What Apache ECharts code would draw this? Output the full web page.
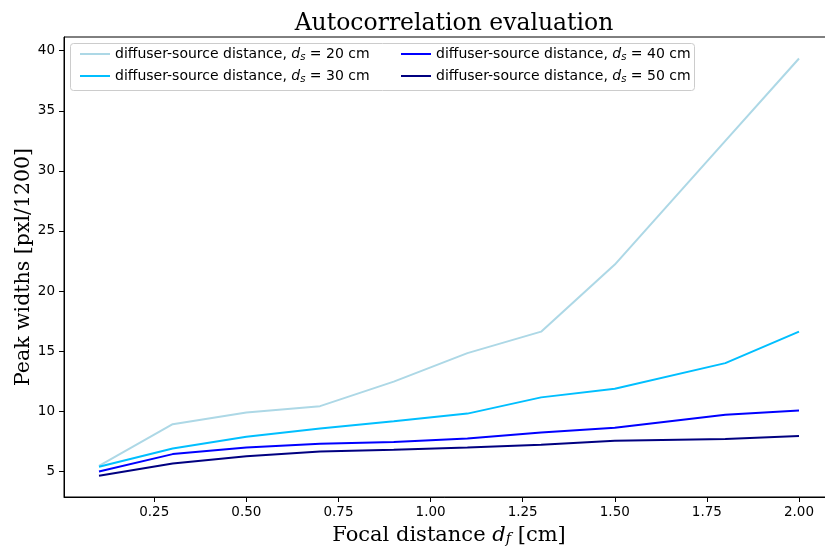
<!DOCTYPE html>
<html>
<head>
<meta charset="utf-8">
<script src="https://cdn.jsdelivr.net/npm/echarts@6/dist/echarts.min.js"></script>
<style>html,body{margin:0;padding:0;background:#fff;}#c{width:825px;height:547px;}</style>
</head>
<body>
<div id="c"></div>
<script>
const xValues = [0.1, 0.3, 0.5, 0.7, 0.9, 1.1, 1.3, 1.5, 1.8, 2.0];
const ds20 = [5.46, 8.92, 9.89, 10.42, 12.46, 14.83, 16.62, 22.2, 32.5, 39.35];
const ds30 = [5.37, 6.9, 7.87, 8.56, 9.17, 9.8, 11.15, 11.87, 14.0, 16.62];
const ds40 = [4.98, 6.43, 6.98, 7.3, 7.43, 7.73, 8.23, 8.62, 9.7, 10.05];
const ds50 = [4.63, 5.65, 6.26, 6.65, 6.79, 6.98, 7.2, 7.54, 7.68, 7.93];
const seriesNames = ['20', '30', '40', '50'];
const seriesColors = ['#ADD8E6', '#00BFFF', '#0000FF', '#000080'];
const xTicks = [0.25, 0.5, 0.75, 1.0, 1.25, 1.5, 1.75, 2.0];
const yTicks = [5, 10, 15, 20, 25, 30, 35, 40];

const allData = [ds20, ds30, ds40, ds50];
const sans = 'DejaVu Sans';
const serif = 'DejaVu Serif';

const chart = echarts.init(document.getElementById('c'), null, {renderer: 'canvas'});

const legendRich = {
  n: {fontFamily: sans, fontSize: 14, color: '#000'},
  i: {fontFamily: sans, fontStyle: 'italic', fontSize: 14, color: '#000'},
  sub: {fontFamily: sans, fontStyle: 'italic', fontSize: 10, color: '#000', verticalAlign: 'bottom', padding: [6, 0, 0, 0]}
};
function legendFmt(name) {
  return '{n|diffuser-source distance, }{i|d}{sub|s}{n| = ' + name + ' cm}';
}
const legendCommon = {
  orient: 'vertical',
  icon: 'rect',
  itemWidth: 30,
  itemHeight: 2,
  itemGap: 7,
  formatter: legendFmt,
  textStyle: {rich: legendRich, padding: [0, 0, 0, 0]},
  selectedMode: false
};

chart.setOption({
  animation: false,
  backgroundColor: '#fff',
  title: {
    text: 'Autocorrelation evaluation',
    left: 449, top: 7, textAlign: 'center',
    textStyle: {fontFamily: serif, fontWeight: 'normal', fontSize: 23.5, color: '#000'}
  },
  graphic: [{
    type: 'rect',
    shape: {x: 70.5, y: 43.5, width: 624, height: 47, r: 3},
    style: {fill: 'rgba(255,255,255,0.8)', stroke: '#cccccc', lineWidth: 1},
    z: 50
  }],
  legend: [
    Object.assign({}, legendCommon, {left: 75, top: 42, data: ['20', '30'], z: 60}),
    Object.assign({}, legendCommon, {left: 396, top: 42, data: ['40', '50'], z: 60})
  ],
  grid: {
    left: 64, top: 37, width: 770, height: 460,
    containLabel: false, outerBoundsMode: 'none',
    show: true, borderColor: '#000', borderWidth: 1, backgroundColor: 'transparent'
  },
  xAxis: {
    type: 'value', min: 0.005, max: 2.095,
    name: '{t|Focal distance }{i|d}{sub|f}{t| [cm]}',
    nameLocation: 'middle', nameGap: 27, nameMoveOverlap: false,
    nameTextStyle: {
      rich: {
        t: {fontFamily: serif, fontSize: 21, color: '#000'},
        i: {fontFamily: serif, fontStyle: 'italic', fontSize: 21, color: '#000'},
        sub: {fontFamily: serif, fontStyle: 'italic', fontSize: 14.5, color: '#000', verticalAlign: 'bottom', padding: [8, 0, 0, 0]}
      }
    },
    axisLine: {show: true, lineStyle: {color: '#000', width: 1}},
    axisTick: {show: true, inside: false, length: 5, customValues: xTicks, lineStyle: {color: '#000'}},
    axisLabel: {
      customValues: xTicks, margin: 8, color: '#000', fontFamily: sans, fontSize: 13.5,
      formatter: v => v.toFixed(2)
    },
    splitLine: {show: false}
  },
  yAxis: {
    type: 'value', min: 2.86, max: 41.14,
    name: 'Peak widths [pxl/1200]',
    nameLocation: 'middle', nameGap: 30, nameMoveOverlap: false,
    nameTextStyle: {fontFamily: serif, fontSize: 20.5, color: '#000'},
    axisLine: {show: true, lineStyle: {color: '#000', width: 1}},
    axisTick: {show: true, inside: false, length: 5, customValues: yTicks, lineStyle: {color: '#000'}},
    axisLabel: {customValues: yTicks, margin: 9, color: '#000', fontFamily: sans, fontSize: 13.5},
    splitLine: {show: false}
  },
  series: seriesNames.map((n, k) => ({
    name: n,
    type: 'line',
    data: xValues.map((x, i) => [x, allData[k][i]]),
    showSymbol: false,
    symbol: 'none',
    color: seriesColors[k],
    lineStyle: {width: 2, color: seriesColors[k]},
    itemStyle: {color: seriesColors[k]}
  }))
});
</script>
</body>
</html>
